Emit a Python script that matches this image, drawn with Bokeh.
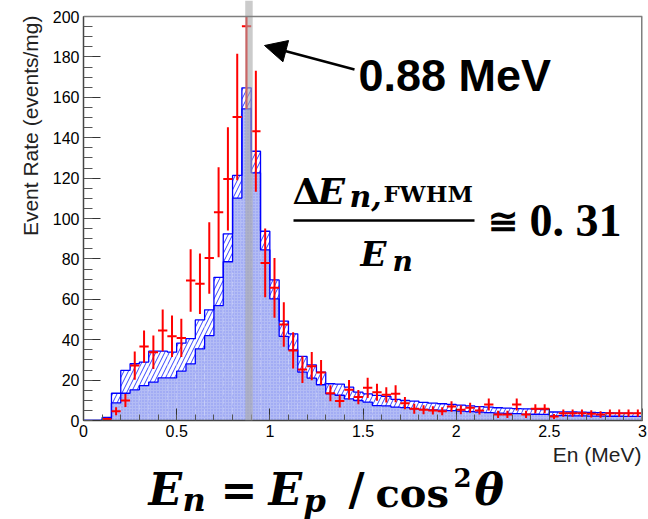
import numpy as np
from bokeh.plotting import figure
from bokeh.layouts import column
from bokeh.models import (ColumnDataSource, SingleIntervalTicker, Label, Arrow,
                          NormalHead, BoxAnnotation, Range1d, Title, Span)
from bokeh.embed import file_html
from bokeh.resources import INLINE

# ---------------- data ----------------
bin_width = 0.05
bin_edges = np.round(np.arange(61) * bin_width, 3)   # 0 ... 3 MeV, 60 bins

# hatched (upper) histogram
hist_upper = [0, 0, 1.5, 13.5, 24.8, 28.1, 28.9, 34.3, 34.3, 33.8,
              38.3, 40.5, 49.8, 54.8, 70.9, 92.4, 121.3, 164.7, 133.3, 93.7,
              69.6, 49.2, 42.9, 31.7, 27.5, 23.9, 18.2, 18.0, 16.5, 14.0,
              13.2, 12.4, 11.9, 10.5, 9.9, 9.6, 9.0, 8.6, 8.3, 8.0,
              7.6, 7.2, 6.9, 6.6, 6.3, 6.1, 5.9, 5.8, 5.6, 5.4,
              4.2, 4.3, 4.2, 4.1, 4.0, 3.9, 3.8, 3.7, 3.6, 3.5]
# dotted (lower) histogram
hist_lower = [0, 0, 0.8, 8.7, 13.5, 15.2, 17.3, 19.0, 21.1, 21.1,
              24.4, 28.0, 35.5, 42.0, 56.9, 78.6, 110.1, 154.3, 122.6, 84.5,
              60.2, 41.6, 35.0, 23.9, 21.0, 17.7, 13.2, 12.5, 10.7, 9.9,
              9.1, 7.4, 7.2, 6.6, 6.4, 5.8, 5.5, 5.3, 5.1, 4.9,
              4.6, 4.4, 4.1, 3.9, 3.7, 3.5, 3.4, 3.2, 3.1, 3.0,
              2.3, 2.4, 2.3, 2.3, 2.2, 2.2, 2.1, 2.1, 2.0, 2.0]
# measured points (red), starting at bin index 2
data_first_bin = 2
data_val = [0.8, 4.6, 9.9, 27.2, 36.6, 33.8, 44.6, 41.7,
            40.9, 69.3, 67.7, 80.5, 103.1, 119.6, 150.2, 195.2, 143.2, 78.0,
            65.7, 47.5, 34.7, 25.2, 26.9, 23.8, 13.5, 9.6, 15.2, 11.6,
            16.2, 14.0, 12.7, 13.2, 8.6, 5.8, 5.3, 5.0, 4.6, 6.9,
            5.3, 6.3, 5.0, 7.9, 3.0, 3.0, 7.9, 3.0, 5.8, 5.8,
            2.0, 3.6, 3.6, 3.6, 3.3, 3.0, 3.6, 3.6, 3.6, 3.6]
data_err = [0.5, 2.0, 3.2, 7.0, 8.0, 8.3, 10.3, 10.3,
            9.5, 15.5, 15.0, 17.7, 22.3, 25.6, 31.3, 41.0, 30.0, 17.0,
            14.8, 11.0, 9.0, 6.6, 7.0, 6.2, 4.0, 3.2, 4.8, 3.5,
            5.0, 4.2, 3.8, 4.2, 3.0, 2.5, 2.2, 2.0, 2.0, 2.6,
            2.2, 2.5, 2.0, 3.0, 1.8, 1.8, 3.0, 1.8, 2.2, 2.2,
            1.2, 1.8, 1.8, 1.8, 1.8, 1.6, 1.8, 1.8, 1.8, 1.8]

peak_energy = 0.888
peak_halfwidth = 0.02

x_tick_labels = ["0", "0.5", "1", "1.5", "2", "2.5", "3"]
x_tick_values = [0, 0.5, 1, 1.5, 2, 2.5, 3]
y_max = 200
x_max = 3

# ---------------- layout (page pixels) ----------------
W, H = 648, 519
MAIN_H = 444
FL, FR, FT, FB = 83, 642, 16, 420
def dx(px):
    return (px - FL) / (FR - FL) * 3.0
def dy(py):
    return (FB - py) / (FB - FT) * 200.0

# the frame reaches the top of the page so the peak band can run above y = 200
p = figure(width=W, height=MAIN_H, x_range=Range1d(0, x_max),
           y_range=Range1d(0, dy(0)),
           output_backend="svg", toolbar_location=None, title=None,
           min_border_left=FL, min_border_right=W - FR, min_border_top=0,
           min_border_bottom=MAIN_H - FB)
p.xgrid.visible = False
p.ygrid.visible = False
p.outline_line_color = None
p.background_fill_color = "white"
p.border_fill_color = "white"

for ax in (p.xaxis[0], p.yaxis[0]):
    ax.axis_line_color = "#444444"
    ax.axis_line_width = 1.5
    ax.major_tick_out = 0
    ax.minor_tick_out = 0
    ax.major_tick_line_color = "#333333"
    ax.minor_tick_line_color = "#555555"
    ax.major_label_text_font = "Liberation Sans"
    ax.major_label_text_font_size = "16px"
    ax.major_label_text_color = "black"
    ax.major_label_standoff = 4

p.yaxis.bounds = (0, y_max)
p.xaxis.ticker = SingleIntervalTicker(interval=0.5, num_minor_ticks=5)
p.yaxis.ticker = SingleIntervalTicker(interval=20, num_minor_ticks=4)
p.xaxis.major_tick_in = 12
p.xaxis.minor_tick_in = 6
p.yaxis.major_tick_in = 17
p.yaxis.minor_tick_in = 9
p.xaxis.major_label_overrides = {v: t for v, t in zip(x_tick_values, x_tick_labels)}

# y axis title (ROOT style, aligned to the top end)
p.add_layout(Title(text="Event Rate (events/mg)", align="right",
                   text_font="Liberation Sans", text_font_style="normal",
                   text_font_size="21px", text_color="#222222", standoff=16,
                   offset=15), "left")

# ---------------- histograms ----------------
src = ColumnDataSource(dict(left=bin_edges[:-1], right=bin_edges[1:],
                            upper=hist_upper, lower=hist_lower))
p.quad(left="left", right="right", bottom=0, top="upper", source=src,
       fill_color="white", line_color=None, hatch_pattern="/",
       hatch_color="#2030ff", hatch_scale=9, hatch_weight=1, hatch_alpha=0.9)
p.quad(left="left", right="right", bottom=0, top="lower", source=src,
       fill_color="#b3bcf5", line_color=None, hatch_pattern=".",
       hatch_color="#5060ee", hatch_scale=3, hatch_alpha=0.45)

p.step(x=bin_edges, y=list(hist_upper) + [hist_upper[-1]], mode="after",
       line_color="#0000ff", line_width=1.3)
p.step(x=bin_edges, y=list(hist_lower) + [hist_lower[-1]], mode="after",
       line_color="#0000ff", line_width=1.3)

# ---------------- peak band ----------------
p.add_layout(BoxAnnotation(left=peak_energy - peak_halfwidth,
                           right=peak_energy + peak_halfwidth,
                           fill_color="#a8a8a8", fill_alpha=0.6, line_color=None))

# ---------------- frame lines (top and right) ----------------
p.add_layout(Span(location=y_max, dimension="width", line_color="#7f7f7f",
                  line_width=1.5))
p.add_layout(Arrow(x_start=x_max, y_start=0, x_end=x_max, y_end=y_max,
                   line_color="#7f7f7f", line_width=3, end=None))

# ---------------- measured points ----------------
n = len(data_val)
lefts = bin_edges[data_first_bin:data_first_bin + n]
rights = bin_edges[data_first_bin + 1:data_first_bin + n + 1]
centers = (lefts + rights) / 2
vals = np.array(data_val)
errs = np.array(data_err)
dsrc = ColumnDataSource(dict(xc=centers, x0=lefts, x1=rights, y=vals,
                             ylo=vals - errs, yhi=np.minimum(vals + errs, y_max)))
p.segment(x0="xc", x1="xc", y0="ylo", y1="yhi", source=dsrc,
          line_color="#ff0000", line_width=2)
p.segment(x0="x0", x1="x1", y0="y", y1="y", source=dsrc,
          line_color="#ff0000", line_width=2)

# ---------------- texts in the plot ----------------
def lab(fig, text, x, y, size, font="DejaVu Serif", style="bold", align="left",
        color="black"):
    fig.add_layout(Label(x=x, y=y, text=text, text_font=font,
                         text_font_style=style, text_font_size=f"{size}px",
                         text_align=align, text_baseline="middle",
                         text_color=color))

def labp(text, px, py, size, **kw):
    lab(p, text, dx(px), dy(py), size, **kw)

labp("0.88 MeV", 358, 75, 45, font="Liberation Sans", style="bold")
p.add_layout(Arrow(x_start=dx(354), y_start=dy(69), x_end=dx(264), y_end=dy(45),
                   line_color="black", line_width=2.5,
                   end=NormalHead(size=22, fill_color="black", line_color="black")))

# fraction  dE_{n,FWHM} / E_n  ~= 0.31
labp("Δ", 292, 190, 36)
labp("E", 317, 190, 36, style="bold italic")
labp("n,", 349, 196, 30, style="bold italic")
labp("FWHM", 383, 193, 23)
p.add_layout(Arrow(x_start=dx(293), y_start=dy(220), x_end=dx(474), y_end=dy(220),
                   line_color="black", line_width=2.5, end=None))
labp("E", 360, 253, 34, style="bold italic")
labp("n", 392, 261, 28, style="bold italic")
labp("≅", 487, 220, 36)
labp("0. 31", 529, 220, 46, font="Liberation Serif")

# ---------------- strip below the plot: x title and formula ----------------
# (this figure's frame is aligned with the main frame by the column layout)
p2 = figure(width=W, height=H - MAIN_H, x_range=Range1d(FL, FR),
            y_range=Range1d(H, MAIN_H), output_backend="svg",
            toolbar_location=None, title=None, min_border=0)
p2.axis.visible = False
p2.grid.visible = False
p2.outline_line_color = None

lab(p2, "En (MeV)", 641, 454, 21, font="Liberation Sans", style="normal",
    align="right", color="#222222")

lab(p2, "E", 148, 489, 44, style="bold italic")
lab(p2, "n", 182, 499, 32, style="bold italic")
lab(p2, "=", 220, 490, 44)
lab(p2, "E", 268, 489, 44, style="bold italic")
lab(p2, "p", 303, 500, 32, style="bold italic")
lab(p2, "/", 348, 489, 44)
lab(p2, "cos", 375, 492, 40)
lab(p2, "2", 453, 477, 26)
lab(p2, "θ", 474, 489, 44, style="bold italic")

layout = column(p, p2, spacing=0)
open("out.html", "w").write(file_html(layout, INLINE))
